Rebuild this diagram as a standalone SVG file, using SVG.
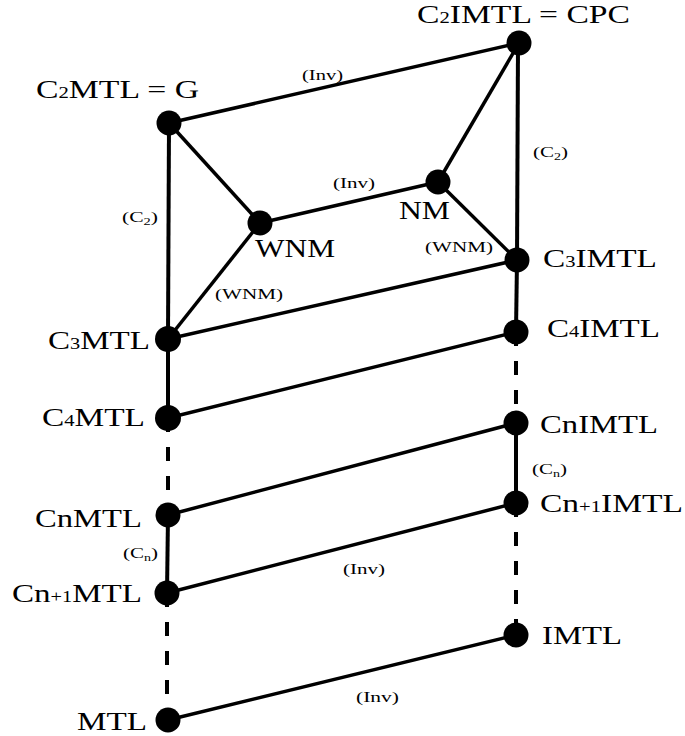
<svg xmlns="http://www.w3.org/2000/svg" width="685" height="736" viewBox="0 0 685 736">
<style>
.e{stroke:#000;stroke-width:3.5;fill:none}
.v{stroke:#000;stroke-width:4;fill:none}
.d{stroke:#000;stroke-width:4;fill:none;stroke-dasharray:14 15}
.n{fill:#000}
.t{font-family:"Liberation Serif","Times New Roman",serif;font-size:26px;fill:#000}
.s{font-family:"Liberation Serif","Times New Roman",serif;font-size:15px;fill:#000}
.sm{font-size:16px}
.sub{font-size:10px}
</style>
<rect width="685" height="736" fill="#fff"/>
<g id="connectors">
<line class="e" x1="169" y1="123" x2="519" y2="43"/>
<line class="e" x1="169" y1="123" x2="260" y2="223"/>
<line class="v" x1="169" y1="123" x2="168" y2="339"/>
<line class="e" x1="519" y1="43" x2="438" y2="182"/>
<line class="v" x1="518" y1="43" x2="517" y2="260"/>
<line class="e" x1="260" y1="223" x2="438" y2="182"/>
<line class="e" x1="438" y1="182" x2="517" y2="260"/>
<line class="e" x1="260" y1="223" x2="168" y2="339"/>
<line class="e" x1="168" y1="339" x2="517" y2="260"/>
<line class="v" x1="168" y1="339" x2="168" y2="418"/>
<line class="v" x1="517" y1="260" x2="516" y2="332"/>
<line class="e" x1="168" y1="418" x2="516" y2="332"/>
<line class="d" x1="168" y1="418" x2="168" y2="515"/>
<line class="d" x1="516" y1="332" x2="516" y2="423"/>
<line class="e" x1="168" y1="515" x2="516" y2="423"/>
<line class="v" x1="168" y1="515" x2="167" y2="593"/>
<line class="v" x1="516" y1="423" x2="516" y2="503"/>
<line class="e" x1="167" y1="593" x2="516" y2="503"/>
<line class="d" x1="167" y1="593" x2="167" y2="720"/>
<line class="d" x1="516" y1="503" x2="516" y2="635"/>
<line class="e" x1="168" y1="720" x2="516" y2="635"/>
</g>
<g id="edge-labels">
<text class="s" x="302" y="80" textLength="41" lengthAdjust="spacingAndGlyphs">(Inv)</text>
<text class="s" x="333" y="188" textLength="42" lengthAdjust="spacingAndGlyphs">(Inv)</text>
<text class="s" x="343" y="574" textLength="42" lengthAdjust="spacingAndGlyphs">(Inv)</text>
<text class="s" x="356" y="702" textLength="43" lengthAdjust="spacingAndGlyphs">(Inv)</text>
<text class="s" x="122" y="222" textLength="36" lengthAdjust="spacingAndGlyphs">(C<tspan class="sub" dy="3">2</tspan><tspan dy="-3">)</tspan></text>
<text class="s" x="533" y="157" textLength="35" lengthAdjust="spacingAndGlyphs">(C<tspan class="sub" dy="3">2</tspan><tspan dy="-3">)</tspan></text>
<text class="s" x="123" y="558" textLength="35" lengthAdjust="spacingAndGlyphs">(C<tspan class="sub" dy="3">n</tspan><tspan dy="-3">)</tspan></text>
<text class="s" x="532" y="474" textLength="35" lengthAdjust="spacingAndGlyphs">(C<tspan class="sub" dy="3">n</tspan><tspan dy="-3">)</tspan></text>
<text class="s" x="215" y="299" textLength="68" lengthAdjust="spacingAndGlyphs">(WNM)</text>
<text class="s" x="425" y="252" textLength="68" lengthAdjust="spacingAndGlyphs">(WNM)</text>
</g>
<g id="G"><circle class="n" cx="169" cy="123" r="12.5"/><text class="t" x="36" y="98" textLength="163" lengthAdjust="spacingAndGlyphs">C<tspan class="sm">2</tspan>MTL = G</text></g>
<g id="CPC"><circle class="n" cx="519" cy="43" r="12.5"/><text class="t" x="417" y="23" textLength="213" lengthAdjust="spacingAndGlyphs">C<tspan class="sm">2</tspan>IMTL = CPC</text></g>
<g id="WNM"><circle class="n" cx="260" cy="223" r="12.5"/><text class="t" x="255" y="257" textLength="80" lengthAdjust="spacingAndGlyphs">WNM</text></g>
<g id="NM"><circle class="n" cx="438" cy="182" r="12.5"/><text class="t" x="399" y="219" textLength="51" lengthAdjust="spacingAndGlyphs">NM</text></g>
<g id="C3IMTL"><circle class="n" cx="517" cy="260" r="12.5"/><text class="t" x="543" y="267" textLength="114" lengthAdjust="spacingAndGlyphs">C<tspan class="sm">3</tspan>IMTL</text></g>
<g id="C3MTL"><circle class="n" cx="168" cy="339" r="13"/><text class="t" x="48" y="349" textLength="102" lengthAdjust="spacingAndGlyphs">C<tspan class="sm">3</tspan>MTL</text></g>
<g id="C4IMTL"><circle class="n" cx="516" cy="332" r="12.5"/><text class="t" x="547" y="337" textLength="113" lengthAdjust="spacingAndGlyphs">C<tspan class="sm">4</tspan>IMTL</text></g>
<g id="C4MTL"><circle class="n" cx="168" cy="418" r="13"/><text class="t" x="42" y="426" textLength="103" lengthAdjust="spacingAndGlyphs">C<tspan class="sm">4</tspan>MTL</text></g>
<g id="CnIMTL"><circle class="n" cx="516" cy="423" r="12.5"/><text class="t" x="540" y="433" textLength="118" lengthAdjust="spacingAndGlyphs">CnIMTL</text></g>
<g id="CnMTL"><circle class="n" cx="168" cy="515" r="12.5"/><text class="t" x="35" y="527" textLength="107" lengthAdjust="spacingAndGlyphs">CnMTL</text></g>
<g id="Cn1IMTL"><circle class="n" cx="516" cy="503" r="12.5"/><text class="t" x="540" y="512" textLength="143" lengthAdjust="spacingAndGlyphs">Cn<tspan class="sm">+1</tspan>IMTL</text></g>
<g id="Cn1MTL"><circle class="n" cx="167" cy="593" r="12.5"/><text class="t" x="12" y="602" textLength="130" lengthAdjust="spacingAndGlyphs">Cn<tspan class="sm">+1</tspan>MTL</text></g>
<g id="IMTL"><circle class="n" cx="516" cy="635" r="12.5"/><text class="t" x="542" y="644" textLength="80" lengthAdjust="spacingAndGlyphs">IMTL</text></g>
<g id="MTL"><circle class="n" cx="168" cy="720" r="12.5"/><text class="t" x="77" y="730" textLength="70" lengthAdjust="spacingAndGlyphs">MTL</text></g>
</svg>
